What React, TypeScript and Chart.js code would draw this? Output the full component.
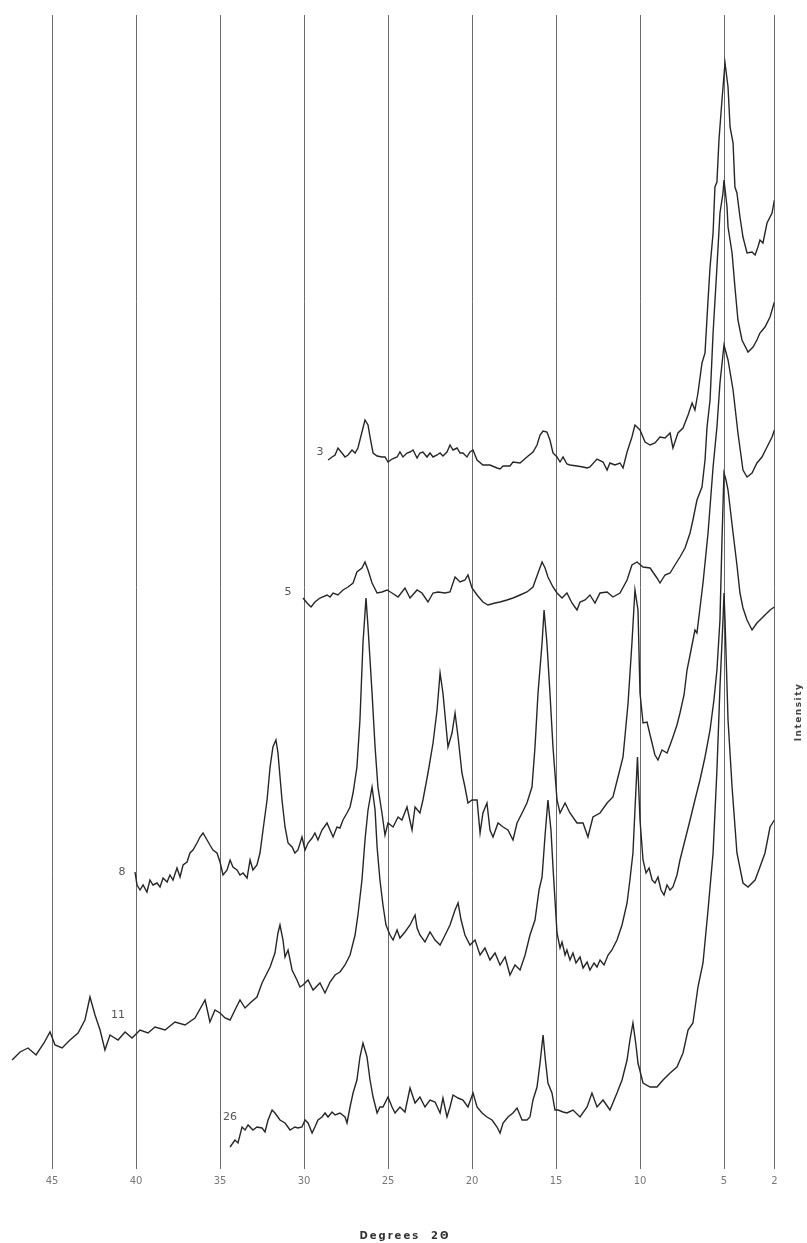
import React, { useEffect, useRef } from "react";
import { Chart, registerables } from "chart.js";

Chart.register(...registerables);

// X axis tick labels (degrees 2-theta)
const tickAngles = [45, 40, 35, 30, 25, 20, 15, 10, 5, 2];

// Pattern names (labels written next to each trace)
const seriesNames = ["3", "5", "8", "11", "26"];

// Trace "3"
const angles3 = [28.57,28.33,28.15,27.98,27.74,27.56,27.38,27.14,26.96,26.79,26.55,26.37,26.19,26.07,25.89,25.65,25.36,25.18,25.00,24.76,24.46,24.29,24.11,23.87,23.69,23.51,23.27,23.10,22.92,22.68,22.50,22.32,22.08,21.90,21.73,21.49,21.31,21.13,20.89,20.71,20.54,20.30,20.12,19.94,19.70,19.35,18.93,18.51,18.33,18.15,17.74,17.56,17.14,16.73,16.37,16.13,15.95,15.77,15.54,15.36,15.18,14.94,14.76,14.58,14.35,14.17,13.75,13.39,13.15,12.98,12.56,12.20,11.96,11.79,11.49,11.19,11.01,10.77,10.48,10.30,10.00,9.70,9.40,9.11,8.81,8.51,8.21,8.04,7.74,7.44,7.14,6.90,6.73,6.55,6.31,6.13,5.95,5.83,5.65,5.54,5.42,5.30,5.12,4.94,4.76,4.64,4.46,4.35,4.23,4.05,3.87,3.63,3.33,3.15,2.98,2.86,2.68,2.44,2.14,2.00];
const intensity3 = [700,703,705,712,707,703,705,710,707,712,728,740,735,723,707,704,703,703,698,701,703,708,703,707,708,710,702,707,708,703,707,703,705,707,704,708,715,710,712,707,707,703,708,710,700,695,695,692,691,694,694,698,697,703,708,715,725,729,728,720,707,703,698,703,696,695,694,693,692,693,701,698,690,697,695,697,692,708,723,735,730,718,715,717,723,722,727,712,727,732,745,757,750,767,797,807,860,893,927,973,978,1020,1060,1097,1073,1033,1017,973,967,943,923,907,908,905,913,920,917,937,947,960];

// Trace "5"
const angles5 = [30.06,29.82,29.58,29.35,29.05,28.63,28.45,28.27,27.98,27.68,27.38,27.08,26.85,26.55,26.37,26.19,25.95,25.65,25.36,25.06,24.76,24.40,23.99,23.69,23.27,22.98,22.62,22.32,22.02,21.61,21.31,21.01,20.71,20.42,20.24,20.00,19.70,19.35,19.05,18.63,18.33,17.92,17.56,17.14,16.73,16.37,16.07,15.83,15.65,15.48,15.18,14.94,14.64,14.35,14.05,13.75,13.57,13.27,12.98,12.68,12.38,11.96,11.61,11.19,10.77,10.48,10.18,9.82,9.40,8.99,8.81,8.51,8.21,7.92,7.62,7.32,7.02,6.85,6.61,6.31,6.13,6.01,5.83,5.65,5.42,5.24,5.06,5.00,4.82,4.76,4.52,4.35,4.17,4.05,3.93,3.57,3.27,3.04,2.86,2.56,2.26,2.00];
const intensity5 = [562,557,553,558,562,565,563,567,565,570,573,577,588,592,598,590,577,567,568,570,567,563,572,562,570,567,558,567,568,567,568,583,578,580,585,572,565,558,555,557,558,560,562,565,568,573,587,598,592,583,573,567,562,567,557,550,558,560,565,557,567,568,563,567,580,595,598,593,592,582,577,585,587,595,603,612,627,640,660,673,700,733,760,827,893,947,967,980,953,933,907,873,840,830,820,808,813,820,827,833,843,858];

// Trace "8"
const angles8 = [40.06,39.94,39.76,39.58,39.35,39.17,38.99,38.75,38.57,38.39,38.15,37.98,37.80,37.56,37.38,37.20,36.96,36.79,36.61,36.37,36.19,36.01,35.77,35.60,35.42,35.18,35.00,34.82,34.58,34.40,34.23,33.99,33.81,33.63,33.39,33.21,33.04,32.80,32.62,32.44,32.20,32.02,31.85,31.67,31.55,31.31,31.13,30.95,30.71,30.54,30.36,30.12,29.94,29.76,29.52,29.35,29.17,28.93,28.63,28.45,28.27,28.04,27.86,27.68,27.44,27.26,27.08,26.85,26.67,26.49,26.31,26.19,25.95,25.77,25.60,25.36,25.18,25.00,24.70,24.40,24.17,23.87,23.57,23.39,23.10,22.92,22.62,22.32,22.08,21.90,21.73,21.43,21.19,21.01,20.83,20.60,20.42,20.24,20.00,19.70,19.52,19.35,19.11,18.93,18.75,18.45,18.15,17.86,17.56,17.32,17.02,16.73,16.43,16.25,16.07,15.83,15.71,15.54,15.36,15.18,14.94,14.76,14.46,14.17,13.75,13.39,13.10,12.80,12.38,11.96,11.61,11.31,11.01,10.71,10.48,10.30,10.12,10.00,9.82,9.58,9.40,9.11,8.93,8.69,8.39,8.21,8.04,7.80,7.62,7.38,7.20,7.02,6.73,6.61,6.25,5.95,5.65,5.42,5.24,5.00,4.76,4.46,4.17,3.87,3.63,3.33,3.04,2.74,2.44,2.14,2.00];
const intensity8 = [288,275,270,275,268,280,275,277,273,282,278,285,280,292,283,295,298,307,310,317,323,327,320,315,310,307,298,285,290,300,293,290,285,287,282,300,290,295,307,330,360,393,413,420,407,360,333,317,313,307,310,323,310,317,322,327,320,330,337,330,323,333,332,340,347,353,367,393,440,517,562,533,467,413,373,347,325,337,333,343,340,353,330,353,347,360,387,417,450,487,467,413,427,447,423,387,373,357,360,360,327,347,357,330,323,337,333,330,320,337,347,357,373,413,467,517,550,517,467,413,360,347,357,347,337,337,323,343,347,357,363,383,403,457,517,570,550,467,437,438,425,405,400,410,407,415,423,435,447,465,490,505,530,527,577,627,693,733,777,815,800,770,727,690,683,687,697,703,713,723,730];

// Trace "11"
const angles11 = [47.38,46.90,46.43,45.95,45.48,45.12,44.82,44.40,43.93,43.45,43.04,42.74,42.44,42.14,41.85,41.55,41.07,40.65,40.24,39.76,39.29,38.87,38.27,37.68,37.08,36.49,35.89,35.60,35.30,35.00,34.70,34.40,34.11,33.81,33.51,33.21,32.80,32.50,32.26,32.02,31.73,31.55,31.43,31.25,31.13,30.95,30.71,30.42,30.24,30.06,29.76,29.46,29.05,28.75,28.45,28.15,27.86,27.56,27.26,26.96,26.79,26.55,26.37,26.19,25.95,25.77,25.65,25.48,25.30,25.12,24.88,24.70,24.46,24.29,23.99,23.69,23.39,23.27,23.10,22.80,22.50,22.20,21.90,21.60,21.31,21.01,20.83,20.65,20.42,20.12,19.82,19.52,19.23,18.93,18.63,18.33,18.03,17.74,17.44,17.14,16.84,16.55,16.25,16.01,15.83,15.65,15.48,15.30,15.18,14.94,14.76,14.64,14.46,14.35,14.17,13.99,13.81,13.57,13.39,13.15,12.98,12.74,12.56,12.38,12.14,11.90,11.67,11.37,11.07,10.77,10.60,10.42,10.30,10.15,10.00,9.82,9.64,9.46,9.28,9.11,8.93,8.75,8.57,8.39,8.21,8.04,7.80,7.62,7.32,7.02,6.73,6.43,6.13,5.83,5.60,5.42,5.24,5.12,5.00,4.88,4.76,4.46,4.23,4.05,3.87,3.63,3.33,3.04,2.68,2.26,2.00];
const intensity11 = [100,108,112,105,117,128,115,112,120,127,140,163,145,130,110,125,120,128,122,130,127,133,130,138,135,142,160,138,150,147,142,140,150,160,152,157,163,177,185,193,207,227,235,220,203,210,190,180,173,175,180,170,177,167,178,185,188,195,205,225,245,280,320,350,373,350,313,280,255,235,225,220,230,222,228,235,245,232,225,218,228,220,215,225,235,250,257,240,225,215,220,205,212,200,207,195,203,185,195,190,205,225,240,270,283,325,360,330,293,227,212,218,205,210,200,207,197,203,192,198,190,197,193,200,195,205,210,220,235,257,280,307,350,403,340,300,287,292,280,277,283,270,265,275,270,273,285,300,320,340,360,380,403,430,460,490,540,620,687,680,670,627,595,567,552,540,530,537,543,550,553];

// Trace "26"
const angles26 = [34.40,34.11,33.93,33.69,33.51,33.33,33.04,32.80,32.50,32.32,32.14,31.90,31.73,31.43,31.13,30.83,30.54,30.36,30.12,29.94,29.76,29.52,29.35,29.17,28.93,28.75,28.57,28.33,28.15,27.86,27.56,27.44,27.26,27.08,26.85,26.67,26.49,26.25,26.07,25.89,25.65,25.48,25.30,25.00,24.76,24.58,24.29,23.99,23.69,23.39,23.10,22.80,22.50,22.20,21.90,21.73,21.49,21.31,21.13,20.83,20.54,20.24,19.94,19.70,19.40,19.11,18.81,18.51,18.33,18.15,17.86,17.56,17.32,17.02,16.73,16.55,16.37,16.13,15.95,15.77,15.65,15.48,15.24,15.06,14.88,14.58,14.35,13.99,13.57,13.15,12.86,12.56,12.20,11.79,11.37,11.07,10.77,10.60,10.42,10.24,10.12,9.82,9.40,8.99,8.63,8.21,7.80,7.44,7.14,6.85,6.55,6.25,5.95,5.65,5.42,5.24,5.06,5.00,4.94,4.76,4.52,4.23,3.87,3.57,3.15,2.86,2.56,2.26,2.00];
const intensity26 = [13,20,17,33,30,35,30,33,32,28,40,50,47,40,37,30,33,32,33,40,37,27,33,40,43,47,43,48,45,47,43,37,53,67,80,103,117,103,80,63,47,53,53,63,53,47,53,48,72,57,63,53,60,58,47,62,43,53,65,62,60,53,67,53,47,43,40,33,27,37,43,47,52,40,40,43,60,73,97,125,103,77,67,50,50,48,47,50,43,53,67,53,60,50,67,80,100,120,137,115,97,77,73,73,80,87,93,107,130,137,173,197,250,307,390,473,540,567,540,440,373,307,277,273,280,293,307,333,340];

// Where each trace name is written (angle, intensity)
const labelAngles = [29.05, 30.95, 40.83, 41.07, 34.4];
const labelIntensities = [708, 568, 288, 145, 43];

const seriesAngles = [angles3, angles5, angles8, angles11, angles26];
const seriesIntensities = [intensity3, intensity5, intensity8, intensity11, intensity26];

function toPoints(a: number[], v: number[]) {
  return a.map((x, i) => ({ x, y: v[i] }));
}

const textPlugin = {
  id: "xrdText",
  afterDraw(chart: any) {
    const ctx: CanvasRenderingContext2D = chart.ctx;
    const xs = chart.scales.x;
    const ys = chart.scales.y;
    ctx.save();
    ctx.fillStyle = "#555";
    ctx.font = "11px 'DejaVu Sans'";
    ctx.textAlign = "center";
    ctx.textBaseline = "middle";
    seriesNames.forEach((n, i) => {
      ctx.fillText(n, xs.getPixelForValue(labelAngles[i]), ys.getPixelForValue(labelIntensities[i]));
    });
    ctx.save();
    ctx.translate(799, 712);
    ctx.rotate(-Math.PI / 2);
    ctx.font = "bold 9px 'DejaVu Sans'";
    (ctx as any).letterSpacing = "1.5px";
    ctx.fillStyle = "#444";
    ctx.fillText("Intensity", 0, 0);
    ctx.restore();
    ctx.font = "bold 10px 'DejaVu Sans'";
    (ctx as any).letterSpacing = "2px";
    ctx.fillStyle = "#333";
    ctx.fillText("Degrees  2Θ", 405, 1236);
    ctx.restore();
  },
};

export default function App() {
  const ref = useRef<HTMLCanvasElement>(null);
  useEffect(() => {
    document.body.style.margin = "0";
    const chart = new Chart(ref.current as HTMLCanvasElement, {
      type: "line",
      data: {
        datasets: seriesNames.map((name, i) => ({
          label: name,
          data: toPoints(seriesAngles[i], seriesIntensities[i]),
          borderColor: "#262626",
          borderWidth: 1.4,
          pointRadius: 0,
          tension: 0,
          fill: false,
        })),
      },
      options: {
        animation: false,
        responsive: false,
        devicePixelRatio: 1,
        layout: { padding: { left: 8, right: 32.6, top: 15, bottom: 0 } },
        plugins: { legend: { display: false }, tooltip: { enabled: false } },
        scales: {
          x: {
            type: "linear",
            reverse: true,
            min: 2,
            max: 47.62,
            afterBuildTicks: (s: any) => {
              s.ticks = tickAngles.map((v) => ({ value: v }));
            },
            afterFit: (s: any) => {
              s.height = 83;
            },
            grid: { color: "#6a6a6a", lineWidth: 1, drawTicks: true, tickLength: 9, tickColor: "#6a6a6a" },
            border: { display: false },
            ticks: {
              autoSkip: false,
              maxRotation: 0,
              padding: 6,
              color: "#777",
              font: { family: "DejaVu Sans", size: 10 },
            },
          },
          y: { display: false, min: 0, max: 1145 },
        },
      } as any,
      plugins: [textPlugin],
    });
    return () => chart.destroy();
  }, []);
  return (
    <div style={{ position: "absolute", left: 0, top: 0, width: 807, height: 1243 }}>
      <canvas ref={ref} width={807} height={1243} />
    </div>
  );
}
